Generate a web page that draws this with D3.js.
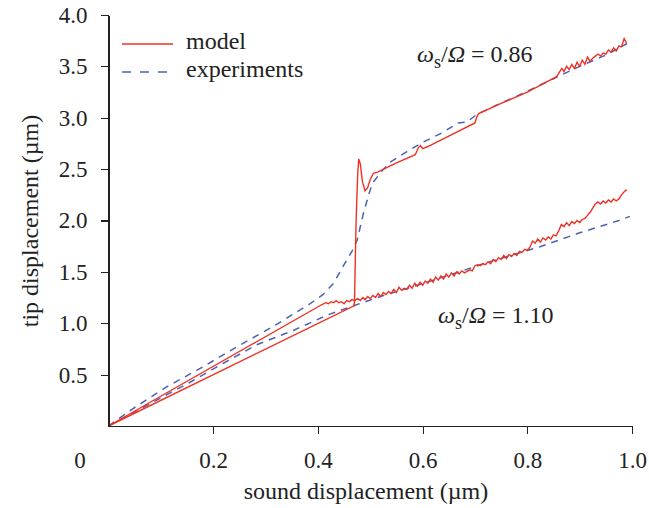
<!DOCTYPE html>
<html lang="en">
<head>
<meta charset="UTF-8">
<title>tip displacement vs sound displacement</title>
<script src="https://d3js.org/d3.v7.min.js"></script>
<style>
    body { margin: 0; background: #fff; }
    svg { display: block; font-family: "Liberation Serif", "DejaVu Serif", serif; }
    .axis path, .axis line { stroke: #222; stroke-width: 1.2; shape-rendering: crispEdges; }
    .axis text { font-family: "Liberation Serif", serif; font-size: 23px; fill: #222; }
    .model { fill: none; stroke: #ef3124; stroke-width: 1.4; }
    .exp { fill: none; stroke: #4a62b4; stroke-width: 1.5; stroke-dasharray: 7,6; }
</style>
</head>
<body>
<div id="chart"></div>
<script>
// tick values
const xTicks = [0.2, 0.4, 0.6, 0.8, 1.0];
const yTicks = [0.5, 1.0, 1.5, 2.0, 2.5, 3.0, 3.5, 4.0];

// omega_s / Omega = 0.86 : model
const model086 = [
    [0, 0], [0.407, 1.18], [0.415, 1.20], [0.42, 1.19], [0.425, 1.21], [0.43, 1.20],
    [0.435, 1.22], [0.44, 1.20], [0.445, 1.21], [0.45, 1.19], [0.455, 1.22], [0.46, 1.21],
    [0.465, 1.23], [0.47, 1.22], [0.471, 1.5], [0.473, 2.0], [0.476, 2.45], [0.478, 2.6],
    [0.481, 2.55], [0.485, 2.38], [0.49, 2.29], [0.495, 2.32], [0.50, 2.40], [0.506, 2.46],
    [0.514, 2.47], [0.55, 2.56], [0.586, 2.64], [0.592, 2.71], [0.596, 2.73], [0.60, 2.70],
    [0.61, 2.72], [0.70, 2.95], [0.703, 3.0], [0.707, 3.04], [0.75, 3.14], [0.80, 3.25],
    [0.856, 3.40], [0.862, 3.45], [0.866, 3.48], [0.87, 3.45], [0.875, 3.50], [0.88, 3.47],
    [0.885, 3.52], [0.89, 3.48], [0.895, 3.54], [0.90, 3.50], [0.905, 3.56], [0.91, 3.52],
    [0.915, 3.59], [0.92, 3.55], [0.925, 3.58], [0.93, 3.60], [0.935, 3.62], [0.94, 3.60],
    [0.945, 3.63], [0.95, 3.62], [0.955, 3.66], [0.96, 3.64], [0.965, 3.68], [0.97, 3.65],
    [0.975, 3.70], [0.98, 3.69], [0.985, 3.77], [0.99, 3.72]
];

// omega_s / Omega = 0.86 : experiments
const exp086 = [
    [0, 0], [0.047, 0.17], [0.111, 0.38], [0.175, 0.56], [0.245, 0.77], [0.315, 0.97],
    [0.382, 1.18], [0.41, 1.28], [0.43, 1.39], [0.45, 1.57], [0.465, 1.70], [0.475, 1.81],
    [0.487, 2.07], [0.497, 2.25], [0.504, 2.36], [0.52, 2.47], [0.539, 2.57], [0.57, 2.67],
    [0.60, 2.76], [0.636, 2.85], [0.668, 2.95], [0.685, 2.96], [0.703, 3.03], [0.74, 3.12],
    [0.78, 3.21], [0.85, 3.38], [0.90, 3.50], [0.95, 3.61], [0.99, 3.72]
];

// omega_s / Omega = 1.10 : model
const model110 = [
    [0, 0], [0.469, 1.17], [0.470, 1.22], [0.476, 1.24], [0.481, 1.22], [0.486, 1.25],
    [0.490, 1.23], [0.495, 1.26], [0.500, 1.24], [0.505, 1.27], [0.510, 1.25], [0.515, 1.29],
    [0.520, 1.26], [0.525, 1.30], [0.530, 1.28], [0.535, 1.31], [0.540, 1.29], [0.545, 1.33],
    [0.550, 1.30], [0.555, 1.35], [0.560, 1.32], [0.565, 1.34], [0.570, 1.33], [0.575, 1.37],
    [0.580, 1.34], [0.585, 1.39], [0.590, 1.36], [0.595, 1.40], [0.600, 1.37], [0.605, 1.41],
    [0.610, 1.39], [0.615, 1.43], [0.620, 1.40], [0.625, 1.45], [0.630, 1.42], [0.635, 1.46],
    [0.640, 1.43], [0.645, 1.48], [0.650, 1.45], [0.655, 1.49], [0.660, 1.46], [0.665, 1.50],
    [0.670, 1.48], [0.675, 1.51], [0.680, 1.49], [0.690, 1.52], [0.695, 1.51], [0.700, 1.56],
    [0.705, 1.57], [0.710, 1.56], [0.715, 1.58], [0.720, 1.57], [0.725, 1.60], [0.730, 1.58],
    [0.735, 1.62], [0.740, 1.60], [0.745, 1.64], [0.750, 1.62], [0.755, 1.66], [0.760, 1.63],
    [0.765, 1.67], [0.770, 1.65], [0.775, 1.68], [0.780, 1.66], [0.785, 1.70], [0.790, 1.69],
    [0.795, 1.72], [0.800, 1.71], [0.805, 1.74], [0.810, 1.80], [0.815, 1.78], [0.820, 1.82],
    [0.825, 1.79], [0.830, 1.83], [0.835, 1.81], [0.840, 1.84], [0.845, 1.82], [0.850, 1.86],
    [0.855, 1.85], [0.860, 1.90], [0.865, 1.96], [0.870, 1.94], [0.875, 1.98], [0.880, 1.95],
    [0.885, 1.99], [0.890, 1.97], [0.895, 2.00], [0.900, 1.98], [0.905, 2.01], [0.910, 2.02],
    [0.915, 2.05], [0.920, 2.08], [0.925, 2.12], [0.930, 2.16], [0.935, 2.18], [0.940, 2.16],
    [0.945, 2.19], [0.950, 2.17], [0.955, 2.20], [0.960, 2.18], [0.965, 2.21], [0.970, 2.19],
    [0.975, 2.21], [0.980, 2.25], [0.985, 2.28], [0.990, 2.30]
];

// omega_s / Omega = 1.10 : experiments
const exp110 = [
    [0, 0], [0.086, 0.236], [0.152, 0.415], [0.219, 0.61], [0.283, 0.79], [0.353, 0.93],
    [0.418, 1.08], [0.468, 1.17], [0.525, 1.27], [0.59, 1.37], [0.652, 1.47], [0.729, 1.60],
    [0.824, 1.745], [0.90, 1.88], [0.975, 2.0], [0.996, 2.04]
];

const W = 649, H = 508;
const svg = d3.select('#chart').append('svg')
    .attr('width', W)
    .attr('height', H);

const x = d3.scaleLinear().domain([0, 1]).range([108.5, 632]);
const y = d3.scaleLinear().domain([0, 4]).range([426, 15]);

const line = d3.line()
    .x(d => x(d[0]))
    .y(d => y(d[1]));

// experiments first, model on top
svg.append('path').datum(exp110).attr('class', 'exp').attr('d', line);
svg.append('path').datum(exp086).attr('class', 'exp').attr('d', line);
svg.append('path').datum(model110).attr('class', 'model').attr('d', line);
svg.append('path').datum(model086).attr('class', 'model').attr('d', line);

// axes
svg.append('g')
    .attr('class', 'axis')
    .attr('transform', `translate(0,${y(0)})`)
    .call(d3.axisBottom(x).tickValues(xTicks).tickSize(8).tickSizeOuter(0)
        .tickPadding(18).tickFormat(d3.format('.1f')));

svg.append('g')
    .attr('class', 'axis')
    .attr('transform', `translate(${x(0)},0)`)
    .call(d3.axisLeft(y).tickValues(yTicks).tickSize(8).tickSizeOuter(0)
        .tickPadding(13).tickFormat(d3.format('.1f')));

// shared origin label
svg.append('text')
    .attr('x', 80)
    .attr('y', 468)
    .attr('text-anchor', 'middle')
    .style('font-size', '23px')
    .style('fill', '#222')
    .text('0');

// axis titles
svg.append('text')
    .attr('x', 366)
    .attr('y', 499)
    .attr('text-anchor', 'middle')
    .style('font-size', '24px')
    .style('fill', '#222')
    .text('sound displacement (\u00b5m)');

svg.append('text')
    .attr('transform', 'rotate(-90)')
    .attr('x', -221)
    .attr('y', 38)
    .attr('text-anchor', 'middle')
    .style('font-size', '24px')
    .style('fill', '#222')
    .text('tip displacement (\u00b5m)');

// legend
const legend = svg.append('g');
legend.append('line').attr('class', 'model')
    .attr('x1', 122).attr('x2', 173).attr('y1', 44).attr('y2', 44);
legend.append('line').attr('class', 'exp')
    .attr('x1', 122).attr('x2', 173).attr('y1', 72).attr('y2', 72)
    .style('stroke-dasharray', '9,9');
legend.append('text').attr('x', 186).attr('y', 49)
    .style('font-size', '24px').style('fill', '#222').text('model');
legend.append('text').attr('x', 186).attr('y', 77)
    .style('font-size', '24px').style('fill', '#222').text('experiments');

// ratio annotations
function ratioLabel(px, py, val) {
    const t = svg.append('text')
        .attr('x', px).attr('y', py)
        .style('font-size', '24px').style('fill', '#222');
    t.append('tspan').style('font-style', 'italic').text('\u03c9');
    t.append('tspan').attr('dy', 6).style('font-size', '18px').text('s');
    t.append('tspan').attr('dy', -6).text('/');
    t.append('tspan').style('font-style', 'italic').text('\u03a9');
    t.append('tspan').text(' = ' + val);
}
ratioLabel(417, 62, '0.86');
ratioLabel(438, 323, '1.10');
</script>
</body>
</html>
